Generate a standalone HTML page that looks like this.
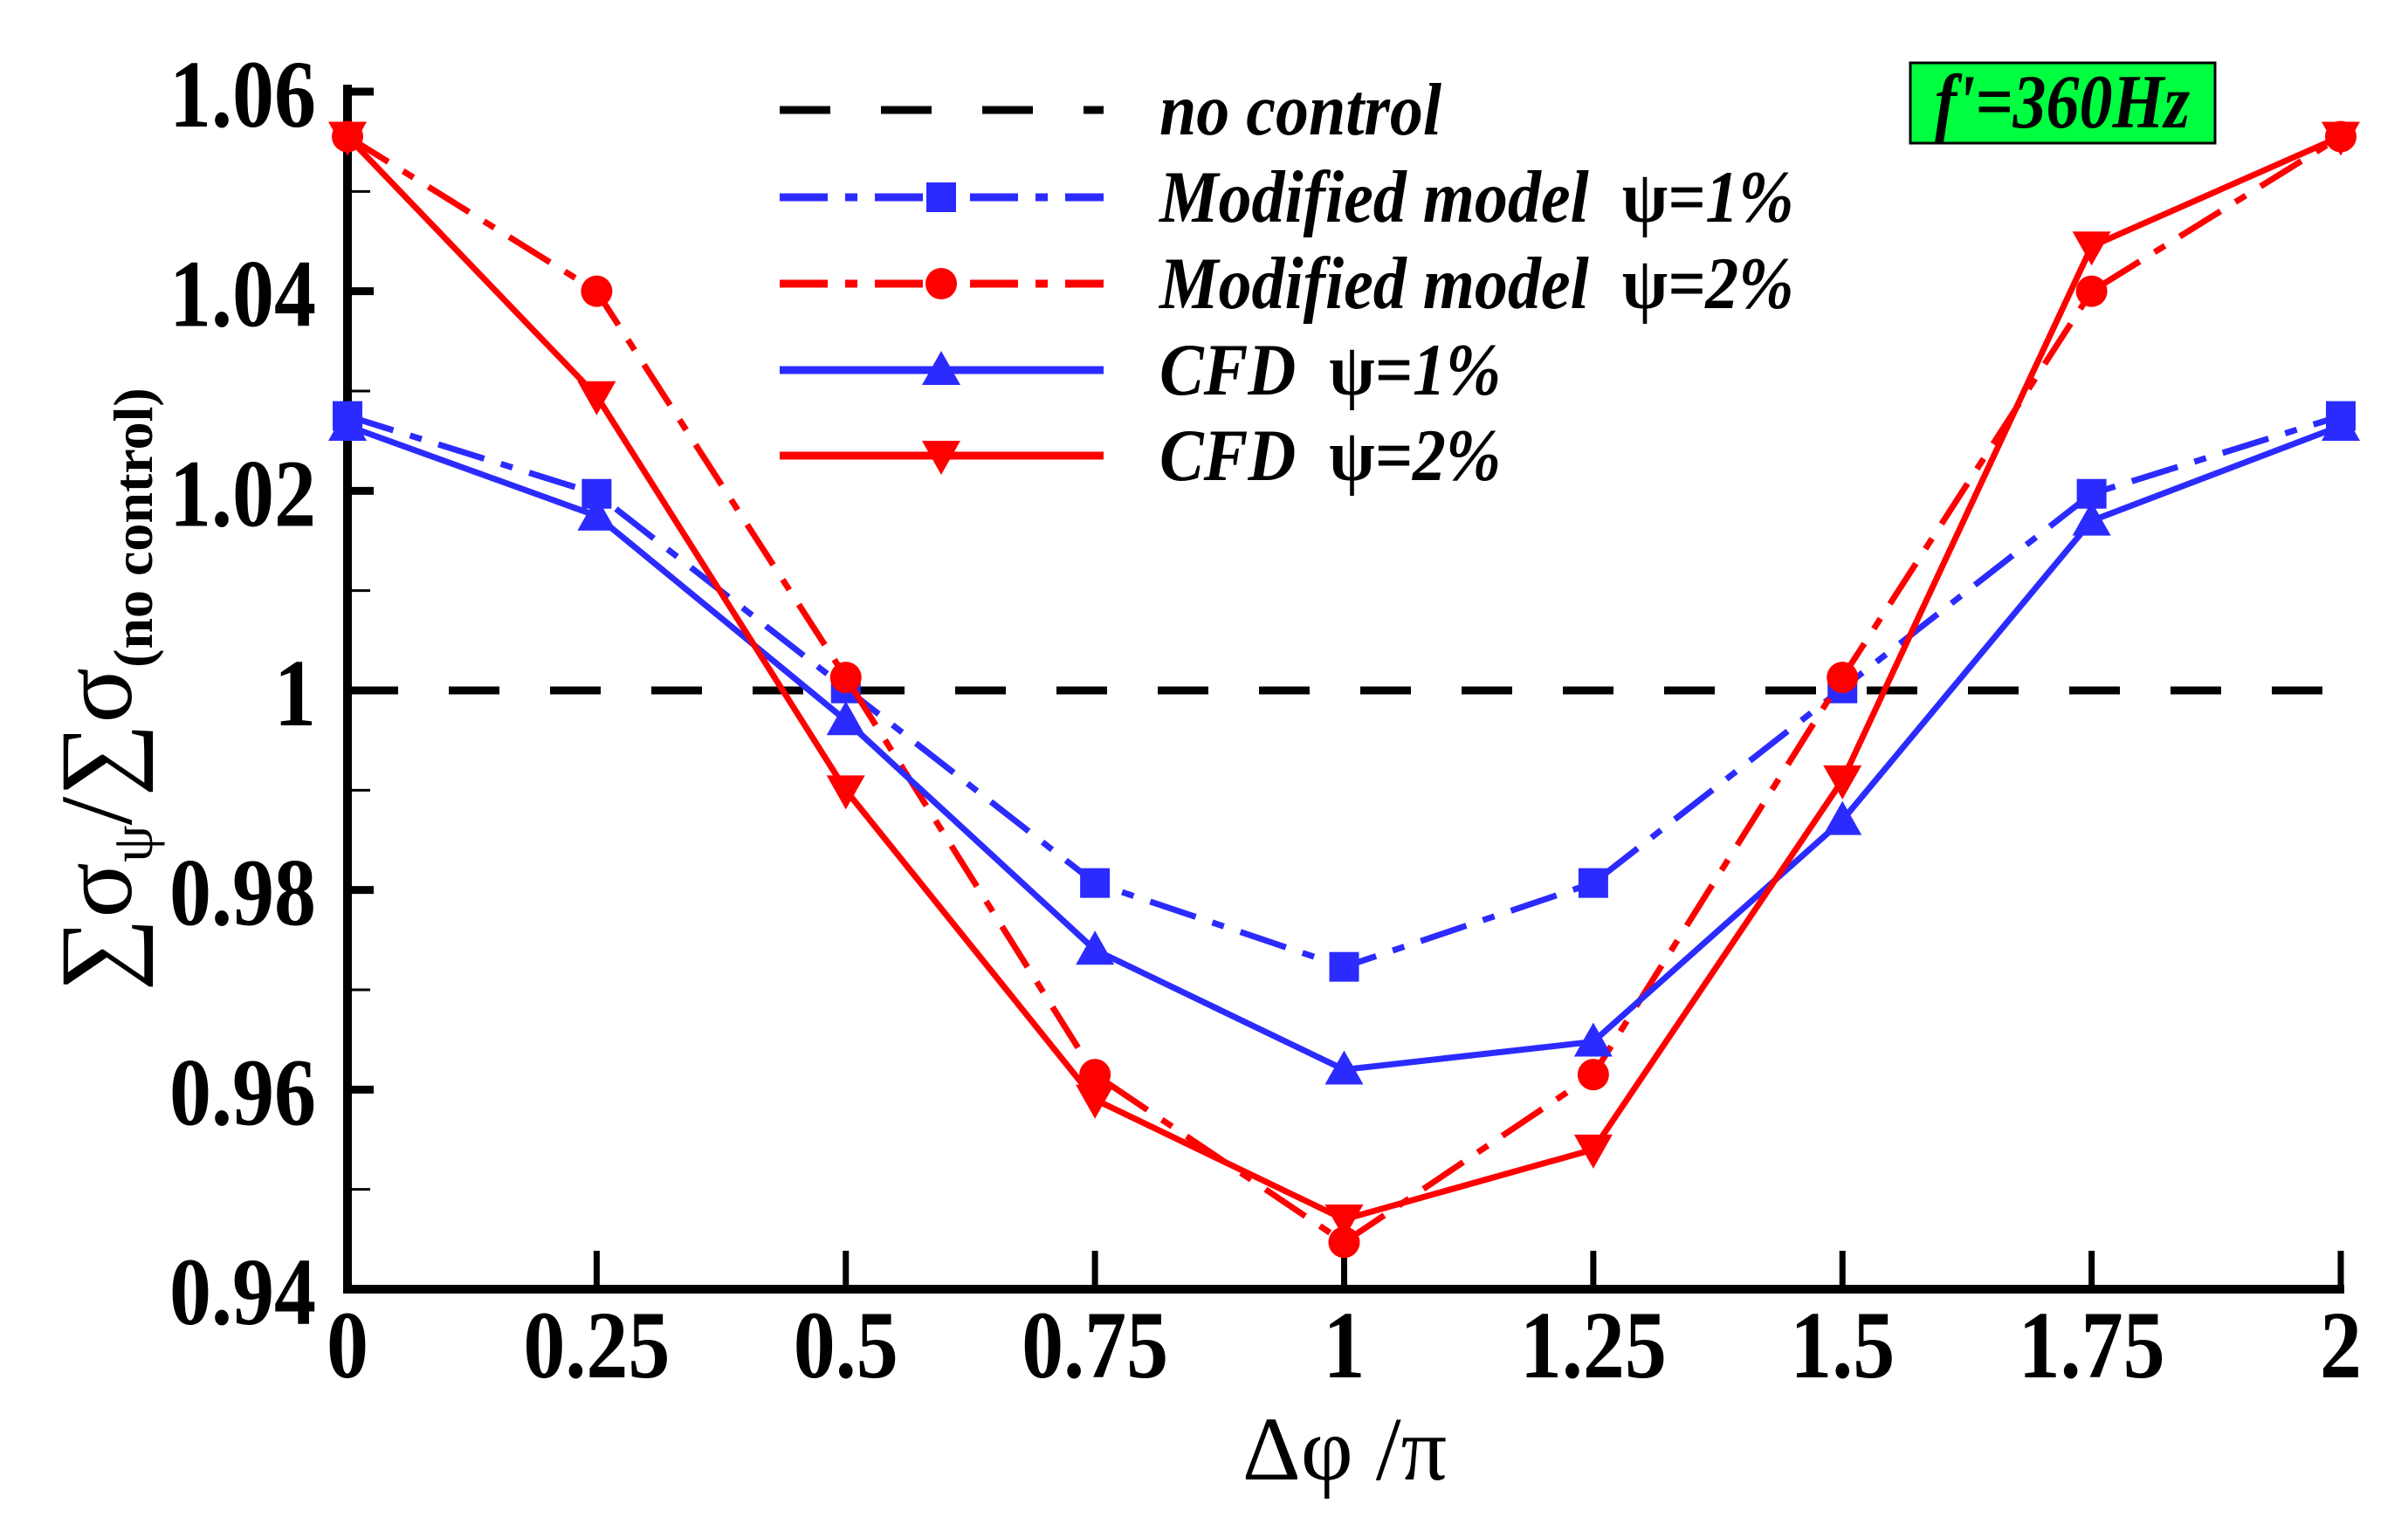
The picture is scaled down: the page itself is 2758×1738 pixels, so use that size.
<!DOCTYPE html>
<html><head><meta charset="utf-8"><style>
html,body{margin:0;padding:0;background:#fff;}
svg{display:block;}
text{white-space:pre;}
</style></head><body>
<svg id="chart" width="2758" height="1738" viewBox="0 0 2758 1738" xmlns="http://www.w3.org/2000/svg"></svg>
<script>
const xValues = [0, 0.25, 0.5, 0.75, 1, 1.25, 1.5, 1.75, 2];
const xTickLabels = ["0","0.25","0.5","0.75","1","1.25","1.5","1.75","2"];
const yTicks = [0.94, 0.96, 0.98, 1, 1.02, 1.04, 1.06];
const yTickLabels = ["0.94","0.96","0.98","1","1.02","1.04","1.06"];
const modified1 = [1.0275, 1.0197, 1.0002, 0.9807, 0.9723, 0.9807, 1.0002, 1.0197, 1.0275];
const modified2 = [1.0555, 1.0400, 1.0013, 0.9615, 0.9447, 0.9615, 1.0013, 1.0400, 1.0555];
const cfd1 = [1.0265, 1.0175, 0.9970, 0.9740, 0.9620, 0.9648, 0.9870, 1.0170, 1.0265];
const cfd2 = [1.0555, 1.0295, 0.9900, 0.9590, 0.9470, 0.9540, 0.9910, 1.0445, 1.0555];
const noControl = 1.0;

const NS = "http://www.w3.org/2000/svg";
const svg = document.getElementById("chart");
const X0 = 398, X1 = 2681, Y0 = 1477, Y1 = 105;
const xs = v => X0 + (v - 0) / 2 * (X1 - X0);
const ys = v => Y0 - (v - 0.94) / 0.12 * (Y0 - Y1);
function mk(tag, attrs, parent) {
  const e = document.createElementNS(NS, tag);
  for (const k in attrs) e.setAttribute(k, attrs[k]);
  (parent || svg).appendChild(e);
  return e;
}
const serif = '"Liberation Serif", "DejaVu Serif", serif';

const axes = mk("g", {});


const ya = mk("line", {x1: X0, y1: Y1 - 8, x2: X0, y2: Y0 + 5, stroke: "#000", "stroke-width": 10}, axes);


const xa = mk("line", {x1: X0 - 5, y1: Y0, x2: X1 + 4, y2: Y0, stroke: "#000", "stroke-width": 10}, axes);



for (let i = 0; i < yTicks.length; i++) {
  const y = ys(yTicks[i]);
  const t = mk("line", {x1: X0, y1: y, x2: X0 + 30, y2: y, stroke: "#000", "stroke-width": 9}, axes);
  
  
  const lb = mk("text", {x: 362, y: 0, "text-anchor": "end", "font-family": serif, "font-weight": "bold", "font-size": 96, transform: `translate(0,${y + 40}) scale(1,1.15)`}, axes);
  lb.textContent = yTickLabels[i];
  
  
  if (i < yTicks.length - 1) {
    const ym = ys(yTicks[i] + 0.01);
    const m = mk("line", {x1: X0, y1: ym, x2: X0 + 26, y2: ym, stroke: "#000", "stroke-width": 3}, axes);
    
    
  }
}
for (let i = 0; i < xValues.length; i++) {
  const x = xs(xValues[i]);
  const t = mk("line", {x1: x, y1: Y0, x2: x, y2: Y0 - 44, stroke: "#000", "stroke-width": 7}, axes);
  
  
  const lb = mk("text", {x: x, y: 0, "text-anchor": "middle", "font-family": serif, "font-weight": "bold", "font-size": 96, transform: `translate(0,1578) scale(1,1.15)`}, axes);
  lb.textContent = xTickLabels[i];
  
  
}
const xt = mk("text", {x: 1540, y: 1695, "text-anchor": "middle", "font-family": serif, "font-size": 104});
xt.textContent = "Δφ /π";


const yt = mk("text", {x: 0, y: 0, "text-anchor": "middle", "font-family": serif, "font-size": 118, transform: "translate(150,790) rotate(-90)"});


yt.innerHTML = '∑σ<tspan font-size="68" dy="24">ψ</tspan><tspan dy="-24">/∑σ</tspan><tspan font-size="64" font-weight="bold" dy="24">(no control)</tspan>';

const nc = mk("line", {x1: X0, y1: ys(noControl), x2: X1, y2: ys(noControl), stroke: "#000", "stroke-width": 9, "stroke-dasharray": "58 58"});



function marker(type, x, y, color, g) {
  let e;
  if (type === "square") e = mk("rect", {x: x - 17, y: y - 17, width: 34, height: 34, fill: color}, g);
  else if (type === "circle") e = mk("circle", {cx: x, cy: y, r: 18, fill: color}, g);
  else if (type === "up") e = mk("polygon", {points: `${x},${y - 22} ${x - 22},${y + 17} ${x + 22},${y + 17}`, fill: color}, g);
  else e = mk("polygon", {points: `${x},${y + 22} ${x - 22},${y - 17} ${x + 22},${y - 17}`, fill: color}, g);
  return e;
}
const seriesList = [
  {name: "series-modified-1", vals: modified1, color: "#2b2bff", dash: "55 20 14 20", m: "square"},
  {name: "series-modified-2", vals: modified2, color: "#ff0000", dash: "55 20 14 20", m: "circle"},
  {name: "series-cfd-1", vals: cfd1, color: "#2b2bff", dash: "", m: "up"},
  {name: "series-cfd-2", vals: cfd2, color: "#ff0000", dash: "", m: "down"}
];
for (const s of seriesList) {
  const g = mk("g", {});
  
  
  const pts = s.vals.map((v, i) => xs(xValues[i]) + "," + ys(v)).join(" ");
  const attrs = {points: pts, fill: "none", stroke: s.color, "stroke-width": 7};
  if (s.dash) attrs["stroke-dasharray"] = s.dash;
  const pl = mk("polyline", attrs, g);
  
  
  s.vals.forEach((v, i) => {
    const mm = marker(s.m, xs(xValues[i]), ys(v), s.color, g);
    
    
  });
}

const leg = mk("g", {});


const legendRows = [
  {y: 126, color: "#000", dash: "58 58", m: null, a: "no control", b: ""},
  {y: 226, color: "#2b2bff", dash: "55 20 14 20", m: "square", a: "Modified model  ", b: "ψ=1%"},
  {y: 325, color: "#ff0000", dash: "55 20 14 20", m: "circle", a: "Modified model  ", b: "ψ=2%"},
  {y: 424, color: "#2b2bff", dash: "", m: "up", a: "CFD  ", b: "ψ=1%"},
  {y: 522, color: "#ff0000", dash: "", m: "down", a: "CFD  ", b: "ψ=2%"}
];
for (const r of legendRows) {
  const g = mk("g", {}, leg);
  
  
  const a = {x1: 893, y1: r.y, x2: 1264, y2: r.y, stroke: r.color, "stroke-width": 9};
  if (r.dash) a["stroke-dasharray"] = r.dash;
  mk("line", a, g);
  if (r.m) marker(r.m, 1078, r.y, r.color, g);
  const t = mk("text", {x: 0, y: 0, "font-family": serif, "font-style": "italic", "font-weight": "bold", "font-size": 76, transform: `translate(1328,${r.y + 28}) scale(1,1.12)`}, g);
  t.innerHTML = r.a + (r.b ? '<tspan font-style="normal">ψ</tspan>' + r.b.slice(1) : '');
}
const fb = mk("g", {});


mk("rect", {x: 2188, y: 72, width: 349, height: 92, fill: "#00ff40", stroke: "#000", "stroke-width": 3}, fb);
const ft = mk("text", {x: 0, y: 0, "text-anchor": "middle", "font-family": serif, "font-style": "italic", "font-weight": "bold", "font-size": 76, transform: "translate(2362,146) scale(1,1.15)"}, fb);
ft.textContent = "f'=360Hz";
</script>
</body></html>
